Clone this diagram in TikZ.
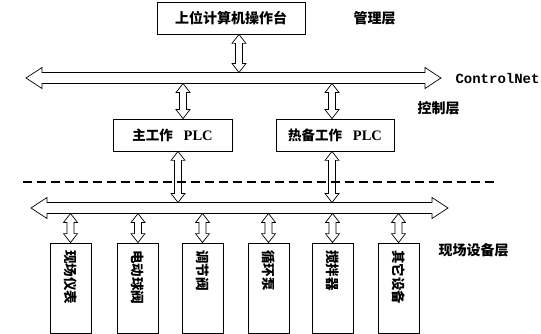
\documentclass[tikz,border=0pt]{standalone}
\usepackage{fontspec}
\newfontfamily\cjk{Noto Sans CJK SC}
\newfontfamily\serifb{Liberation Serif}
\newfontfamily\monob{Liberation Mono}
\usetikzlibrary{calc}

\tikzset{
  box/.style={draw, line width=0.8pt, fill=white, inner sep=0pt},
  blockarrow/.style={draw, line width=0.7pt, fill=white, line join=miter},
  cjkbig/.style={font=\cjk\bfseries\fontsize{14}{14}\selectfont},
  cjkplc/.style={font=\cjk\bfseries\fontsize{13.5}{13.5}\selectfont},
  devbox/.style={draw, line width=0.8pt, fill=white, rotate=-90,
    text width=76pt, inner xsep=7pt, inner ysep=0pt, minimum height=41pt,
    align=left, font=\cjk\bfseries\fontsize{13.5}{13.5}\selectfont},
  layer/.style={anchor=west, font=\cjk\bfseries\fontsize{14}{14}\selectfont},
}

% vertical double block arrow: x from #1, top y from #2, bottom y from #3
\newcommand\vbiarrow[3]{%
  \draw[blockarrow] let \p1=(#1), \p2=(#2), \p3=(#3) in
    (\x1,\y2) -- (\x1+7pt,\y2-9pt) -- (\x1+3.5pt,\y2-9pt) -- (\x1+3.5pt,\y3+9pt)
    -- (\x1+7pt,\y3+9pt) -- (\x1,\y3) -- (\x1-7pt,\y3+9pt) -- (\x1-3.5pt,\y3+9pt)
    -- (\x1-3.5pt,\y2-9pt) -- (\x1-7pt,\y2-9pt) -- cycle;}
% horizontal double block arrow (bus) between #1 and #2
\newcommand\hbiarrow[2]{%
  \draw[blockarrow] let \p1=(#1), \p2=(#2) in
    (\x1,\y1) -- (\x1+16pt,\y1+10.5pt) -- (\x1+16pt,\y1+5.5pt) -- (\x2-16pt,\y1+5.5pt)
    -- (\x2-16pt,\y1+10.5pt) -- (\x2,\y1) -- (\x2-16pt,\y1-10.5pt) -- (\x2-16pt,\y1-5.5pt)
    -- (\x1+16pt,\y1-5.5pt) -- (\x1+16pt,\y1-10.5pt) -- cycle;}

\begin{document}
\begin{tikzpicture}[x=1pt,y=-1pt]
\useasboundingbox (0,0) rectangle (541,334);

% buses
\coordinate (b1L) at (26,78);
\coordinate (b1R) at (441,78);
\coordinate (b1top) at (0,72.5);
\coordinate (b1bot) at (0,83.5);
\coordinate (b2L) at (31,208);
\coordinate (b2R) at (448,208);
\coordinate (b2top) at (0,202.5);
\coordinate (b2bot) at (0,213.5);

% boxes
\node[box, minimum width=148pt, minimum height=32pt, cjkbig] (top) at (231,18) {上位计算机操作台};
\node[box, minimum width=119pt, minimum height=32pt, cjkplc] (plc1) at (172.5,135)
  {主工作\hspace{0.8em}{\serifb\bfseries\fontsize{14.5}{14.5}\selectfont PLC}};
\node[box, minimum width=118pt, minimum height=32pt, cjkplc] (plc2) at (335,135)
  {热备工作\hspace{0.8em}{\serifb\bfseries\fontsize{14.5}{14.5}\selectfont PLC}};

\node[devbox] (d1) at (70.5,288) {现场仪表};
\node[devbox] (d2) at (138,288) {电动球阀};
\node[devbox] (d3) at (202.5,288) {调节阀};
\node[devbox] (d4) at (268.5,288) {循环泵};
\node[devbox] (d5) at (332.5,288) {搅拌器};
\node[devbox] (d6) at (398.5,288) {其它设备};

% bus arrows
\hbiarrow{b1L}{b1R}
\hbiarrow{b2L}{b2R}

% connectors
\coordinate (xt) at ($(top.south)+(8,0)$);
\vbiarrow{xt}{top.south}{b1top}
\coordinate (x1u) at ($(plc1.north)+(10.5,0)$);
\vbiarrow{x1u}{b1bot}{plc1.north}
\coordinate (x2u) at ($(plc2.north)+(-3,0)$);
\vbiarrow{x2u}{b1bot}{plc2.north}
\coordinate (x1d) at ($(plc1.south)+(5.5,0)$);
\vbiarrow{x1d}{plc1.south}{b2top}
\coordinate (x2d) at ($(plc2.south)+(-3,0)$);
\vbiarrow{x2d}{plc2.south}{b2top}
\foreach \d in {d1,d2,d3,d4,d5,d6}{
  \vbiarrow{\d.west}{b2bot}{\d.west}
}

% dashed separator
\coordinate (dashL) at (22.5,182);
\coordinate (dashR) at (498,182);
\draw[line width=2pt, dash pattern=on 9pt off 5pt] (dashL) -- (dashR);

% labels
\node[layer] (lmgmt) at (350,18) {管理层};
\node[anchor=west, font=\monob\bfseries\fontsize{14}{14}\selectfont] (lnet) at (452,78) {ControlNet};
\node[layer] (lctrl) at (414,108) {控制层};
\node[layer] (lfield) at (435,250) {现场设备层};
\end{tikzpicture}
\end{document}
